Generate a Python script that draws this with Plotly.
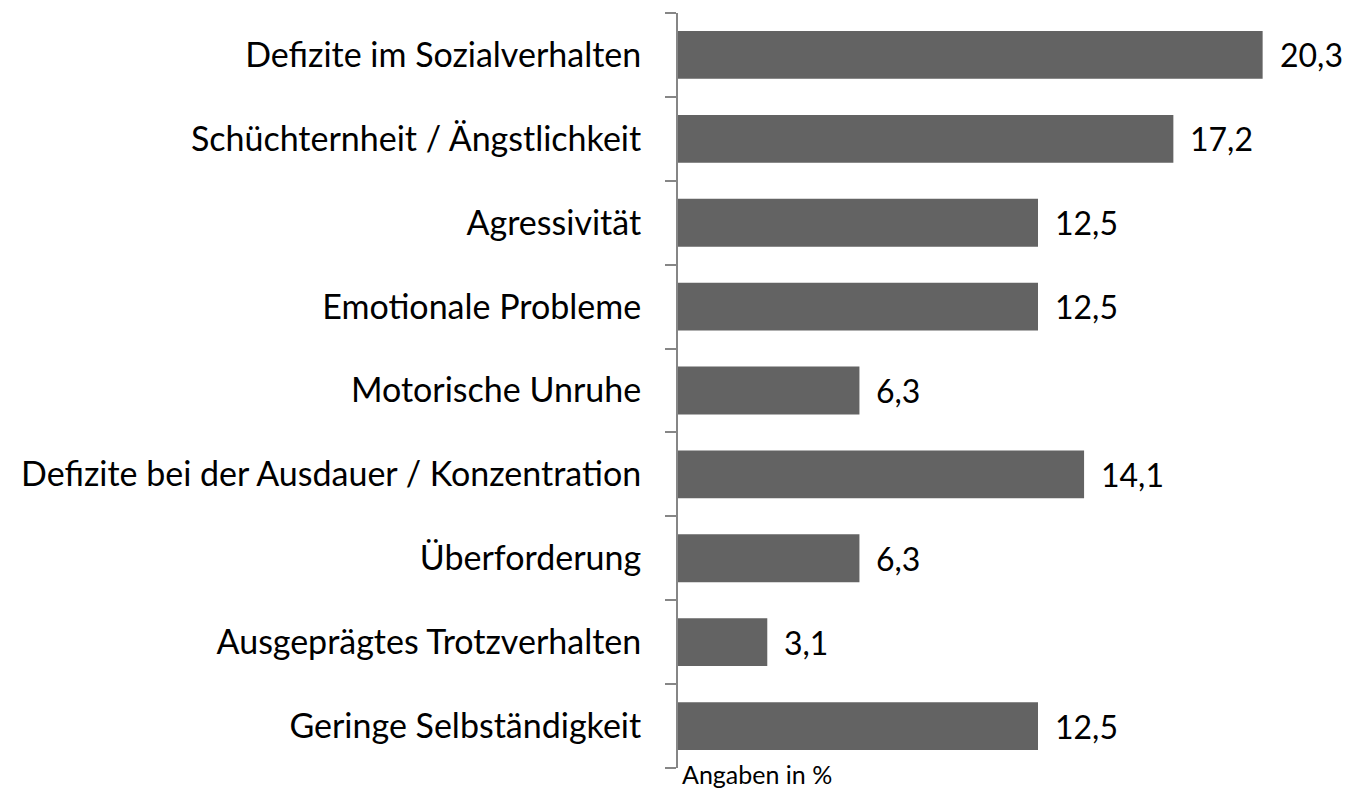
import plotly.graph_objects as go

categories = [
    "Defizite im Sozialverhalten",
    "Schüchternheit / Ängstlichkeit",
    "Agressivität",
    "Emotionale Probleme",
    "Motorische Unruhe",
    "Defizite bei der Ausdauer / Konzentration",
    "Überforderung",
    "Ausgeprägtes Trotzverhalten",
    "Geringe Selbständigkeit",
]
values = [20.3, 17.2, 12.5, 12.5, 6.3, 14.1, 6.3, 3.1, 12.5]
value_labels = [f"{v:.1f}".replace(".", ",") for v in values]

FONT = "Lato"

fig = go.Figure()
fig.add_trace(go.Bar(
    x=values,
    y=categories,
    orientation="h",
    marker=dict(color="#636363", line=dict(width=0)),
    hoverinfo="skip",
))

annotations = []
for c, v, t in zip(categories, values, value_labels):
    annotations.append(dict(
        x=v, y=c, xref="x", yref="y", text=t, showarrow=False,
        xanchor="left", yanchor="middle", xshift=15,
        font=dict(family=FONT, size=32, color="#000000"),
    ))
annotations.append(dict(
    x=0, y=0, xref="paper", yref="paper", text="Angaben in %", showarrow=False,
    xanchor="left", yanchor="top", xshift=2, yshift=11,
    font=dict(family=FONT, size=25, color="#000000"),
))

fig.update_layout(
    width=1348, height=791,
    margin=dict(l=678, r=0, t=13, b=23),
    paper_bgcolor="white", plot_bgcolor="white",
    bargap=0.43,
    showlegend=False,
    annotations=annotations,
    xaxis=dict(
        range=[0, 670 / 28.8], visible=False, showgrid=False, zeroline=False,
    ),
    yaxis=dict(
        type="category",
        categoryorder="array",
        categoryarray=categories[::-1],
        autorange=False,
        range=[-0.5, len(categories) - 0.5],
        showline=True, linecolor="#868686", linewidth=2,
        ticks="outside", ticklen=11, tickwidth=2, tickcolor="#868686",
        tickson="boundaries",
        ticklabelstandoff=28,
        showgrid=False, zeroline=False,
        tickfont=dict(family=FONT, size=34, color="#000000"),
    ),
)

fig.write_html(
    "out.html",
    config={"displayModeBar": False},
    post_script="document.body.style.margin='0';document.body.style.overflow='hidden';",
)
